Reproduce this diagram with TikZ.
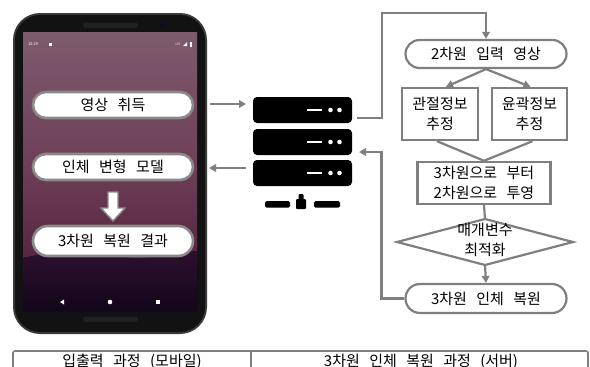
\documentclass[tikz,border=0pt]{standalone}
\usepackage{fontspec}
\setmainfont{Noto Sans CJK KR}[WordSpace=2.8]
\usetikzlibrary{arrows.meta}

\definecolor{linegray}{HTML}{7F7F7F}
\definecolor{pillgray}{HTML}{8A8A8A}
\definecolor{phoneblack}{HTML}{121212}
\definecolor{phoneedge}{HTML}{3A3A3A}
\definecolor{scrA}{HTML}{7D5B6D}
\definecolor{scrB}{HTML}{6E3E57}
\definecolor{scrC}{HTML}{55243F}
\definecolor{hillA}{HTML}{2E1030}
\definecolor{hillB}{HTML}{13061A}

\newcommand\kfont{\fontsize{15}{20}\selectfont}

\begin{document}
\begin{tikzpicture}[x=1pt,y=-1pt,
  conn/.style={draw=linegray, line width=2.2pt},
  arr/.style={conn, -{Triangle[length=7pt,width=7.5pt]}},
  pill/.style={draw=pillgray, line width=2.6pt, fill=white, rounded corners=13pt,
    minimum width=160pt, minimum height=26pt, inner sep=0pt, font=\kfont},
  stadium/.style={draw=linegray, line width=2.2pt, fill=white, inner sep=0pt,
    minimum width=161pt, font=\kfont},
  procbox/.style={draw=linegray, line width=2.4pt, fill=white, align=center,
    inner sep=0pt, font=\kfont},
  srvbox/.style={fill=black, rounded corners=4pt, minimum width=99pt,
    minimum height=26pt, inner sep=0pt},
  tbl/.style={draw=linegray, line width=1.6pt},
  label/.style={font=\kfont, inner sep=0pt}
]
\useasboundingbox (0,0) rectangle (590,367);
\clip (0,0) rectangle (590,367);

% ---------- phone body ----------
\fill[phoneedge, rounded corners=27pt] (13,13) rectangle (207,334);
\fill[phoneblack, rounded corners=25pt] (15,15) rectangle (205,332);
\fill[phoneedge] (205,113) rectangle (207,137);
\fill[phoneedge] (205,150) rectangle (207,182);
% speakers and camera
\fill[black!75!gray, rounded corners=2.5pt] (83,22.5) rectangle (138,28);
\fill[black!75!gray, rounded corners=2.5pt] (83,316.5) rectangle (138,322);
\fill[blue!40!black] (162,25) circle (1.5pt);

% ---------- screen ----------
\fill[top color=scrA, bottom color=scrB] (23,32) rectangle (197,170.5);
\fill[top color=scrB, bottom color=scrC] (23,170) rectangle (197,262);
\fill[top color=hillA, bottom color=hillB]
  (23,258) .. controls (55,251) and (85,250) .. (115,256)
  .. controls (145,262) and (170,254) .. (197,251) -- (197,311) -- (23,311) -- cycle;

% status bar
\node[white, font=\fontsize{4}{4}\selectfont, inner sep=0pt] (clock) at (33,44) {12:29};
\fill[white] (48.5,42.5) rectangle (51.5,45.5);
\node[white, font=\fontsize{3}{3}\selectfont, inner sep=0pt] (lte) at (178,44) {LTE};
\fill[white] (183,46) -- (187,46) -- (187,42) -- cycle;
\fill[white] (189.5,41.5) rectangle (192,46.5);

% navigation keys
\fill[white] (60,302) -- (64,299.5) -- (64,304.5) -- cycle;
\fill[white] (110,302) circle (2.3pt);
\fill[white] (156,300) rectangle (160,304);

% ---------- screen buttons ----------
\node[pill] (p1) at (113,105) {영상 취득};
\node[pill] (p2) at (113,167) {인체 변형 모델};
\node[pill, minimum height=30pt, rounded corners=15pt] (p3) at (113,241) {3차원 복원 결과};
\draw[draw=pillgray, fill=white, line width=1.4pt, line join=miter]
  (108,192) -- (118,192) -- (118,208) -- (125,208) -- (113,221)
  -- (101,208) -- (108,208) -- cycle;

% ---------- phone <-> server ----------
\coordinate (up1) at (210,104);
\coordinate (up2) at (246,104);
\coordinate (dn1) at (246,168);
\coordinate (dn2) at (209,168);
\draw[arr] (up1) -- (up2);
\draw[arr] (dn1) -- (dn2);

% ---------- server icon ----------
\node[srvbox] (s1) at (302.5,110) {};
\node[srvbox] (s2) at (302.5,142) {};
\node[srvbox] (s3) at (302.5,173) {};
\foreach \yy in {110,142,173}{
  \draw[white, line width=2.2pt] (307,\yy) -- (322,\yy);
  \fill[white] (330.5,\yy) circle (2.3pt);
  \fill[white] (339.5,\yy) circle (2.3pt);
}
\fill[black, rounded corners=1.5pt] (265,201) rectangle (290,207.5);
\fill[black, rounded corners=1.5pt] (314,201) rectangle (340,207.5);
\fill[black, rounded corners=1pt] (296,199) rectangle (306,209);
\fill[black, rounded corners=1pt] (298.5,194) rectangle (303.5,200);

% ---------- server flow ----------
\node[stadium, minimum height=28pt, rounded corners=14pt] (f1) at (486,54) {2차원 입력 영상};
\node[procbox, minimum width=76pt, minimum height=52pt] (f2a) at (440,114) {관절정보\\추정};
\node[procbox, minimum width=75pt, minimum height=52pt] (f2b) at (529.5,114) {윤곽정보\\추정};
\node[procbox, minimum width=133pt, minimum height=42pt] (f3) at (484,183) {3차원으로 부터\\2차원으로 투영};
\coordinate (dl) at (397,242);
\coordinate (dt) at (485,219);
\coordinate (dr) at (573,242);
\coordinate (db) at (485,265);
\draw[conn, fill=white, line join=miter] (dl) -- (dt) -- (dr) -- (db) -- cycle;
\node[label, align=center] (f4) at (485,240) {매개변수\\최적화};
\node[stadium, minimum height=29pt, rounded corners=14.5pt] (f5) at (486,298.5) {3차원 인체 복원};

\coordinate (sout) at (357,118);
\coordinate (corner) at (382,13);
\coordinate (ftop) at (486,13);
\coordinate (sin) at (359,152);

\draw[arr] (sout) -| (corner) -- (ftop) -- (f1.north);
\draw[arr] (f1.south) -- ([xshift=6pt]f2a.north);
\draw[arr] (f1.south) -- ([xshift=1pt]f2b.north);
\draw[conn] ([xshift=-3pt]f2a.south) -- (f3.north);
\draw[conn] ([xshift=3pt]f2b.south) -- (f3.north);
\draw[conn] (f3.south) -- (dt);
\draw[arr] (db) -- (f5.north);
\draw[arr] (f5.west) -- ++(-23,0) |- (sin);

% ---------- caption table ----------
\draw[tbl, rounded corners=2pt] (13,351) rectangle (588,385);
\draw[tbl] (251,351) -- (251,385);
\node[label] (cap1) at (132,361.5) {입출력 과정 (모바일)};
\node[label] (cap2) at (421,361.5) {3차원 인체 복원 과정 (서버)};
\end{tikzpicture}
\end{document}
